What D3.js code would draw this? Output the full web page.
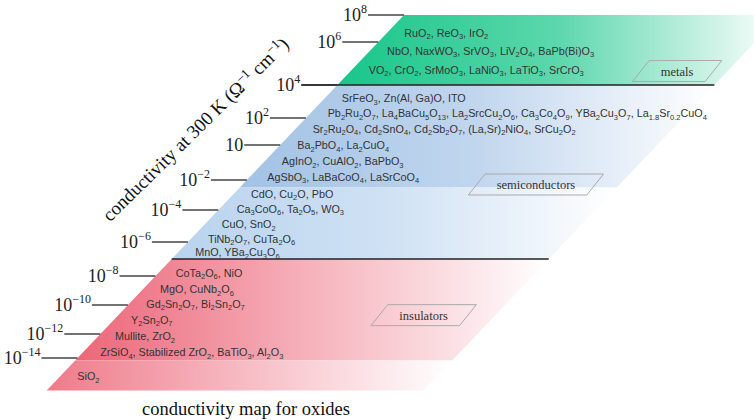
<!DOCTYPE html>
<html><head><meta charset="utf-8">
<script src="https://cdn.jsdelivr.net/npm/d3@7"></script>
<style>body{margin:0;background:#fff}</style>
</head><body><svg id="c" width="754" height="420"></svg>
<script>
// ---------- DATA ----------
const tickExponents = [8, 6, 4, 2, 1, -2, -4, -6, -8, -10, -12, -14];

const bandNames   = ["metals", "semiconductors", "semiconductors", "insulators", "insulators"];
const bandTop     = [8, 4, -2.5, -7, -14.2];
const bandBottom  = [4, -2.5, -7, -14.2, -16.7];

const categories     = ["metals", "semiconductors", "insulators"];
const categoryLevels = [4.65, -2.3, -10.7];

const compoundRows = [
  "RuO_2, ReO_3, IrO_2",
  "NbO, NaxWO_3, SrVO_3, LiV_2O_4, BaPb(Bi)O_3",
  "VO_2, CrO_2, SrMoO_3, LaNiO_3, LaTiO_3, SrCrO_3",
  "SrFeO_3, Zn(Al, Ga)O, ITO",
  "Pb_2Ru_2O_7, La_4BaCu_5O_13, La_2SrcCu_2O_6, Ca_3Co_4O_9, YBa_2Cu_3O_7, La_1.8Sr_0.2CuO_4",
  "Sr_2Ru_2O_4, Cd_2SnO_4, Cd_2Sb_2O_7, (La,Sr)_2NiO_4, SrCu_2O_2",
  "Ba_2PbO_4, La_2CuO_4",
  "AgInO_2, CuAlO_2, BaPbO_3",
  "AgSbO_3, LaBaCoO_4, LaSrCoO_4",
  "CdO, Cu_2O, PbO",
  "Ca_3CoO_6, Ta_2O_5, WO_3",
  "CuO, SnO_2",
  "TiNb_2O_7, CuTa_2O_6",
  "MnO, YBa_2Cu_3O_6",
  "CoTa_2O_6, NiO",
  "MgO, CuNb_2O_6",
  "Gd_2Sn_2O_7, Bi_2Sn_2O_7",
  "Y_2Sn_2O_7",
  "Mullite, ZrO_2",
  "ZrSiO_4, Stabilized ZrO_2, BaTiO_3, Al_2O_3",
  "SiO_2"
];
// log10 conductivity (schematic position on the axis) of each row
const rowLevels = [6.7, 5.6, 4.7, 3.2, 2.3, 1.6, 1.0, -0.4, -1.7, -2.9, -3.9, -4.9, -5.8, -6.6,
                   -7.8, -8.9, -9.9, -11.0, -12.2, -13.5, -15.5];

// ---------- STYLE / LAYOUT ----------
const bandColor = {metals: "#17c68a", semiconductors: "#a2c2e5", insulators: "#ec6679"};
const lowerBandColor = {semiconductors: "#b9d3ee", insulators: "#ef7a8a"};
const bandFade = {metals: 0.3, semiconductors: 0.33, insulators: 0.5};
const boxFrac = [0.866, 0.778, 0.81];
const serif = "'Liberation Serif', 'Times New Roman', serif";
const sans = "'Liberation Sans', Arial, sans-serif";

const svg = d3.select("#c");
const defs = svg.append("defs");

// schematic (piecewise-linear) conductivity axis
const y = d3.scaleLinear()
  .domain(tickExponents)
  .range([15, 42, 85, 118, 145, 180, 210, 242, 276, 305, 334, 358]);

// slanted left edge of the map, and the parallel right edge
const xLeft = d3.scaleLinear().domain([390, 15]).range([47, 404]);
const mapWidth = 377;
const xRight = yy => xLeft(yy) + mapWidth;

// ---------- BANDS ----------
bandNames.forEach((name, i) => {
  const y0 = y(bandTop[i]), y1 = y(bandBottom[i]);
  const isLower = i > 0 && bandNames[i - 1] === name;
  const c0 = isLower ? lowerBandColor[name] : bandColor[name];
  const gid = "g" + i;
  const g = defs.append("linearGradient").attr("id", gid)
    .attr("gradientUnits", "userSpaceOnUse")
    .attr("x1", xLeft(y1)).attr("x2", xRight(y0)).attr("y1", 0).attr("y2", 0);
  g.append("stop").attr("offset", 0).attr("stop-color", c0);
  g.append("stop").attr("offset", 0.5).attr("stop-color", d3.interpolateRgb(c0, "#fff")(bandFade[name]));
  g.append("stop").attr("offset", 1).attr("stop-color", "#fff");
  const pts = [[xLeft(y0), y0], [xRight(y0), y0], [xRight(y1), y1], [xLeft(y1), y1]];
  svg.append("polygon").attr("points", pts.map(p => p.join(",")).join(" "))
    .attr("fill", `url(#${gid})`);
});

// ---------- TICKS ----------
const tickLen = 36;
tickExponents.forEach(e => {
  const yy = y(e);
  const x1 = xLeft(yy);
  svg.append("line").attr("x1", x1 - tickLen).attr("x2", x1).attr("y1", yy).attr("y2", yy)
    .attr("stroke", "#444").attr("stroke-width", 1.4);
  const t = svg.append("text").attr("x", x1 - tickLen - 1).attr("y", yy + 6)
    .attr("text-anchor", "end").attr("font-family", serif).attr("font-size", 18).attr("fill", "#222");
  t.append("tspan").text("10");
  if (e !== 1) {
    t.append("tspan").attr("dy", -8).attr("font-size", 12).text(String(e).replace("-", "\u2212"));
  }
});

// separator lines between classes
[4, -7].forEach(e => {
  const yy = y(e);
  svg.append("line").attr("x1", e === 4 ? xLeft(yy) - tickLen : xLeft(yy)).attr("x2", xRight(yy))
    .attr("y1", yy).attr("y2", yy).attr("stroke", "#222").attr("stroke-width", 1.5);
});

// ---------- COMPOUND LABELS ----------
function formula(sel, str) {
  const parts = str.split(/_([0-9.]+)/);
  let lowered = false;
  parts.forEach((p, k) => {
    if (p === "") return;
    const isSub = k % 2 === 1;
    const ts = sel.append("tspan").text(p);
    if (isSub) { ts.attr("dy", 2.5).attr("font-size", "0.7em"); lowered = true; }
    else if (lowered) { ts.attr("dy", -2.5); lowered = false; }
  });
}
compoundRows.forEach((row, i) => {
  const yy = y(rowLevels[i]);
  const t = svg.append("text").attr("x", xLeft(yy) + 17).attr("y", yy + 4)
    .attr("font-family", sans).attr("font-size", 10.8).attr("fill", "#333");
  formula(t, row);
});

// ---------- CATEGORY BOXES ----------
categories.forEach((c, i) => {
  const yy = y(categoryLevels[i]);
  const cx = xLeft(yy) + boxFrac[i] * mapWidth;
  const t = svg.append("text").attr("x", cx).attr("y", yy + 4.5).attr("text-anchor", "middle")
    .attr("font-family", serif).attr("font-size", 12.5).attr("fill", "#333").text(c);
  const w = t.node().getComputedTextLength() + 40, h = 21, sk = h * 0.8;
  const pts = [[cx - w / 2 + sk / 2, yy - h / 2], [cx + w / 2 + sk / 2, yy - h / 2],
               [cx + w / 2 - sk / 2, yy + h / 2], [cx - w / 2 - sk / 2, yy + h / 2]];
  svg.insert("polygon", "text").attr("points", pts.map(p => p.join(",")).join(" "))
    .attr("fill", "none").attr("stroke", "#aaa").attr("stroke-width", 1);
});

// ---------- TITLES ----------
const at = svg.append("text").attr("transform", "translate(200,134) rotate(-44.5)")
  .attr("text-anchor", "middle").attr("font-family", serif).attr("font-size", 19).attr("fill", "#111");
at.append("tspan").text("conductivity at 300 K (\u03A9");
at.append("tspan").attr("dy", -7).attr("font-size", 13).text("\u22121");
at.append("tspan").attr("dy", 7).text(" cm");
at.append("tspan").attr("dy", -7).attr("font-size", 13).text("\u22121");
at.append("tspan").attr("dy", 7).text(")");

svg.append("text").attr("x", 246).attr("y", 415).attr("text-anchor", "middle")
  .attr("font-family", serif).attr("font-size", 18.5).attr("fill", "#111")
  .text("conductivity map for oxides");
</script>
</body></html>
